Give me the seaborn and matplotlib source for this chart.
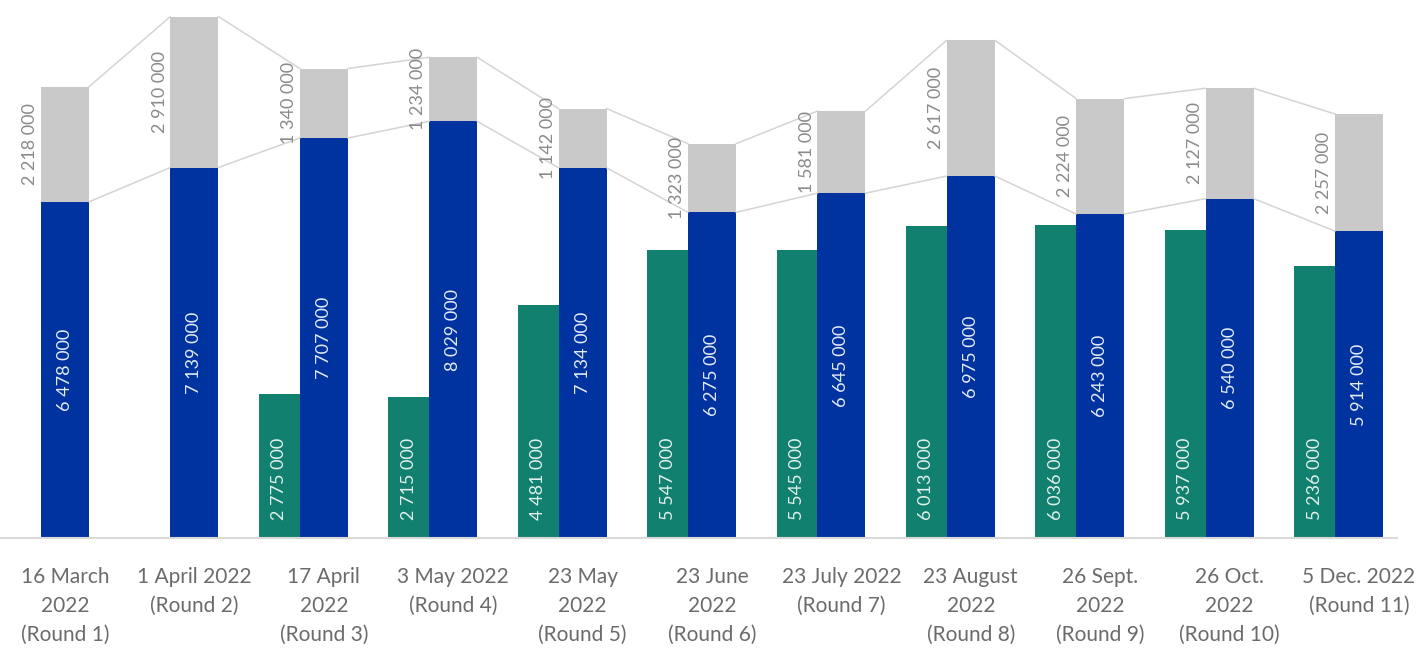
import numpy as np
import pandas as pd
import matplotlib
matplotlib.use("Agg")
import matplotlib.pyplot as plt
import seaborn as sns

rounds = ["16 March\n2022\n(Round 1)", "1 April 2022\n(Round 2)", "17 April\n2022\n(Round 3)",
          "3 May 2022\n(Round 4)", "23 May\n2022\n(Round 5)", "23 June\n2022\n(Round 6)",
          "23 July 2022\n(Round 7)", "23 August\n2022\n(Round 8)", "26 Sept.\n2022\n(Round 9)",
          "26 Oct.\n2022\n(Round 10)", "5 Dec. 2022\n(Round 11)"]
green_vals = [np.nan, np.nan, 2775000, 2715000, 4481000, 5547000, 5545000, 6013000, 6036000, 5937000, 5236000]
blue_vals = [6478000, 7139000, 7707000, 8029000, 7134000, 6275000, 6645000, 6975000, 6243000, 6540000, 5914000]
gray_vals = [2218000, 2910000, 1340000, 1234000, 1142000, 1323000, 1581000, 2617000, 2224000, 2127000, 2257000]

GREEN = "#12806f"
BLUE = "#0033a0"
GRAY = "#c9c9c9"
LINE = "#d4d4d4"
W = 0.742  # total width of a pair of bars
GW = 0.315  # green bars are a bit narrower

sns.set_theme(style="white")
plt.rcParams["font.family"] = ["Lato", "DejaVu Sans"]

def fmt(v):
    return f"{int(v):,}".replace(",", " ")

df = pd.DataFrame({"round": rounds * 2,
                   "series": ["green"] * len(rounds) + ["blue"] * len(rounds),
                   "value": green_vals + blue_vals})

fig = plt.figure(figsize=(14.23, 6.54), dpi=100)
ax = fig.add_axes([0, 116 / 654, 1397 / 1423, 538 / 654])

sns.barplot(data=df, x="round", y="value", hue="series", hue_order=["green", "blue"],
            palette={"green": GREEN, "blue": BLUE}, width=W, dodge=True,
            saturation=1, legend=False, errorbar=None, order=rounds, ax=ax,
            linewidth=0, edgecolor="none")

# narrow the green bars, keeping them flush with the blue ones
for p in ax.containers[0]:
    right = p.get_x() + p.get_width()
    p.set_width(GW)
    p.set_x(right - GW)

x = np.arange(len(rounds))
bw = W / 2
bx = x + bw / 2   # blue bar centres
gx = x - GW / 2   # green bar centres
blue = np.array(blue_vals, dtype=float)
gray = np.array(gray_vals, dtype=float)
green = np.array(green_vals, dtype=float)
total = blue + gray

# gray segment stacked on blue
ax.bar(bx, gray, bottom=blue, width=bw, color=GRAY, linewidth=0, zorder=2)

# series lines between stacked bars
for i in range(len(rounds) - 1):
    for top in (blue, total):
        ax.plot([bx[i] + bw / 2, bx[i + 1] - bw / 2], [top[i], top[i + 1]],
                color=LINE, lw=1.1, zorder=1)

# labels
for i in range(len(rounds)):
    ax.text(bx[i], blue[i] / 2, fmt(blue[i]), rotation=90, ha="center", va="center",
            color="#e3ecf5", fontsize=13)
    ax.annotate(fmt(gray[i]), xy=(bx[i] - bw / 2, blue[i] + gray[i] / 2),
                xytext=(-2, 0), textcoords="offset points", rotation=90,
                ha="right", va="center", color="#8a8a8a", fontsize=13)
    if not np.isnan(green[i]):
        ax.annotate(fmt(green[i]), xy=(gx[i], 0), xytext=(0, 13), textcoords="offset points",
                    rotation=90, ha="center", va="bottom", color="#e3f0ec", fontsize=13)

ax.set_xlim(-41 / 129.4, (1397 - 41) / 129.4)
ax.set_ylim(0, 538 * 19270)
ax.set_xticks(bx)
ax.set_xticklabels(rounds, fontsize=15, color="#6b6b6b", linespacing=1.55)
ax.tick_params(axis="x", length=0, pad=21)
ax.set_yticks([])
ax.set_xlabel("")
ax.set_ylabel("")
for s in ["top", "right", "left"]:
    ax.spines[s].set_visible(False)
ax.spines["bottom"].set_color("#d9d9d9")
ax.spines["bottom"].set_linewidth(1.5)

fig.savefig("out.png", dpi=100, facecolor="white")
